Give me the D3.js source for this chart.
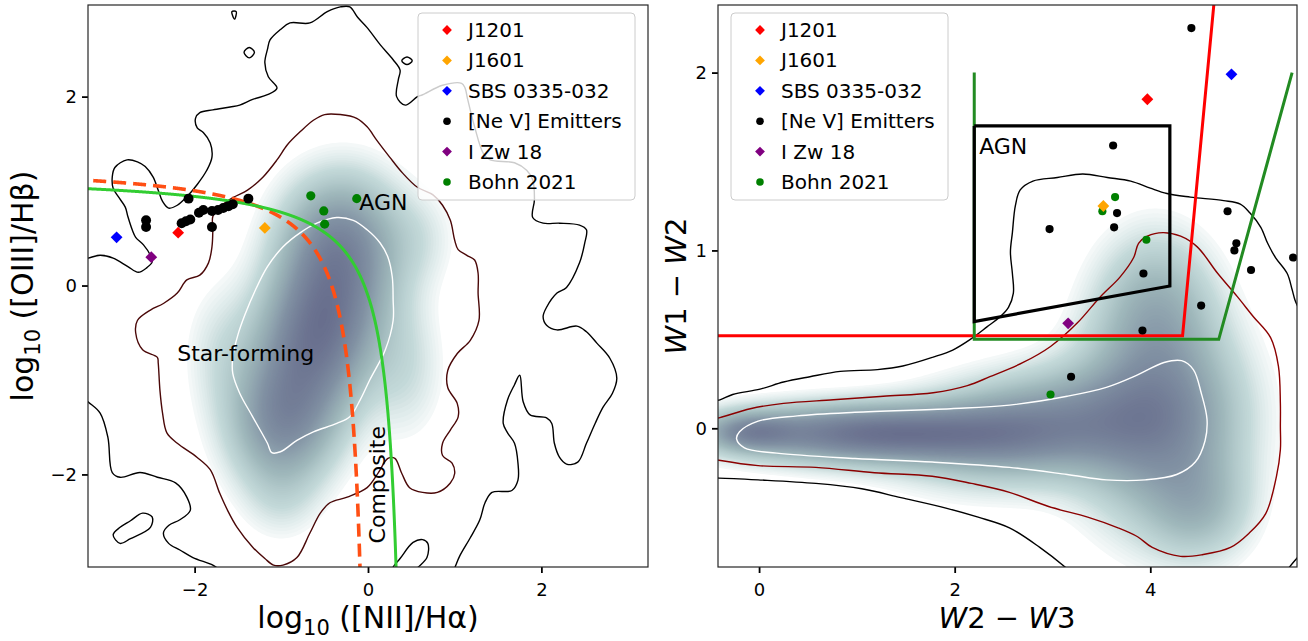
<!DOCTYPE html>
<html>
<head>
<meta charset="utf-8">
<script src="https://cdn.jsdelivr.net/npm/d3@7"></script>
<style>
  body { margin: 0; background: #fff; }
  text { font-family: "DejaVu Sans", sans-serif; fill: #000; }
</style>
</head>
<body>
<div id="wrapper"></div>
<script>
// ---------------- data ----------------
const seriesNames = ["J1201", "J1601", "SBS 0335-032", "[Ne V] Emitters", "I Zw 18", "Bohn 2021"]

// BPT panel: log10([NII]/Ha), log10([OIII]/Hb)
const bptJ1201 = [[-2.19, 0.56]]
const bptJ1601 = [[-1.19, 0.61]]
const bptSBS = [[-2.90, 0.51]]
const bptIZw18 = [[-2.50, 0.30]]
const bptNeV = [[-2.56, 0.69], [-2.56, 0.62], [-2.15, 0.66], [-2.10, 0.68], [-2.05, 0.70], [-1.95, 0.77],
  [-1.90, 0.80], [-2.07, 0.92], [-1.80, 0.79], [-1.80, 0.62], [-1.73, 0.80], [-1.67, 0.82],
  [-1.61, 0.84], [-1.56, 0.86], [-1.38, 0.92]]
const bptBohn = [[-0.66, 0.95], [-0.51, 0.79], [-0.50, 0.65], [-0.13, 0.92]]

// demarcations y = a/(x-b)+c
const kewley01 = [0.61, 0.47, 1.19]
const kauffmann03 = [0.61, 0.05, 1.3]

// WISE panel: W2-W3, W1-W2
const wiseJ1201 = [[3.97, 1.85]]
const wiseJ1601 = [[3.52, 1.25]]
const wiseSBS = [[4.83, 1.99]]
const wiseIZw18 = [[3.16, 0.59]]
const wiseNeV = [[4.42, 2.25], [3.62, 1.59], [3.66, 1.21], [3.63, 1.13], [2.97, 1.12], [4.79, 1.22],
  [4.88, 1.04], [4.86, 1.00], [5.03, 0.89], [5.46, 0.96], [3.93, 0.87], [4.52, 0.69],
  [3.92, 0.55], [3.19, 0.29]]
const wiseBohn = [[3.64, 1.30], [3.51, 1.22], [3.96, 1.06], [2.98, 0.19]]

const jarrettBox = [[2.2, 1.7], [4.2, 1.7], [4.2, 0.8], [2.2, 0.6], [2.2, 1.7]]
const satyapalLine = [[-0.6, 0.52], [4.33, 0.52], [4.67, 2.5]]
const blechaLine = [[2.2, 2.0], [2.2, 0.5], [4.7, 0.5], [5.45, 2.0]]

// density of the comparison samples, as gaussian blobs [mx, my, sx, sy, weight, rho]
const bptDensity = [[-0.55, -0.45, 0.5, 0.7, 1.0, 0.3], [-1.0, -1.5, 0.4, 0.45, 0.5, 0],
  [-0.35, 0.55, 0.45, 0.45, 0.45, 0], [0.45, -0.9, 0.3, 0.5, 0.15, 0],
  [-1.7, -0.7, 0.3, 0.5, 0.12, 0], [-1.0, -2.3, 0.3, 0.3, 0.09, 0], [0.6, 0.5, 0.3, 0.35, 0.1, 0]]
const wiseDensity = [[1.1, -0.03, 0.95, 0.11, 1.0, 0], [2.8, 0.0, 0.8, 0.2, 0.75, 0.2],
  [4.1, 0.05, 0.55, 0.38, 0.75, 0], [4.05, 0.7, 0.4, 0.28, 0.38, 0],
  [-0.1, -0.02, 0.3, 0.07, 0.5, 0], [4.5, -0.45, 0.35, 0.2, 0.3, 0]]

// contour lines of the comparison samples
const bptOuter = [[-3.30, 0.28], [-3.23, 0.29], [-3.09, 0.32], [-2.94, 0.29], [-2.77, 0.20], [-2.65, 0.14], [-2.55, 0.19],
  [-2.49, 0.25], [-2.51, 0.32], [-2.59, 0.43], [-2.68, 0.51], [-2.72, 0.59], [-2.77, 0.73], [-2.80, 0.83],
  [-2.88, 0.94], [-2.94, 1.03], [-2.95, 1.15], [-2.92, 1.25], [-2.78, 1.33], [-2.66, 1.31], [-2.57, 1.26],
  [-2.48, 1.15], [-2.42, 1.01], [-2.37, 0.89], [-2.30, 0.82], [-2.20, 0.85], [-2.09, 0.94], [-1.97, 1.07],
  [-1.86, 1.22], [-1.80, 1.36], [-1.82, 1.51], [-1.90, 1.62], [-1.97, 1.67], [-1.99, 1.77], [-1.94, 1.83],
  [-1.79, 1.86], [-1.59, 1.89], [-1.48, 1.91], [-1.33, 1.97], [-1.16, 2.02], [-1.05, 2.09], [-1.15, 2.21],
  [-1.19, 2.36], [-1.16, 2.50], [-1.13, 2.60], [-1.01, 2.71], [-0.90, 2.78], [-0.67, 2.78], [-0.47, 2.90],
  [-0.32, 2.95], [-0.21, 2.95], [-0.12, 2.84], [-0.01, 2.73], [0.14, 2.55], [0.29, 2.39], [0.37, 2.28],
  [0.35, 2.18], [0.33, 2.00], [0.43, 1.91], [0.57, 2.00], [0.63, 2.02], [0.86, 2.12], [1.08, 2.14],
  [1.12, 2.09], [1.15, 1.97], [1.23, 1.68], [1.33, 1.40], [1.41, 1.33], [1.69, 1.30], [1.83, 1.22],
  [1.90, 1.12], [1.92, 0.91], [1.90, 0.72], [2.02, 0.66], [2.21, 0.66], [2.44, 0.64], [2.52, 0.59],
  [2.50, 0.45], [2.44, 0.24], [2.29, -0.02], [2.18, -0.08], [2.06, -0.23], [2.02, -0.33], [2.06, -0.42],
  [2.18, -0.47], [2.41, -0.43], [2.52, -0.49], [2.64, -0.61], [2.79, -0.77], [2.87, -0.98], [2.82, -1.14],
  [2.71, -1.29], [2.62, -1.46], [2.52, -1.67], [2.42, -1.87], [2.29, -1.89], [2.21, -1.82], [2.15, -1.67],
  [2.12, -1.46], [2.06, -1.40], [1.87, -1.37], [1.79, -1.23], [1.75, -0.95], [1.69, -1.05], [1.61, -1.21],
  [1.56, -1.46], [1.61, -1.56], [1.69, -1.67], [1.73, -1.88], [1.73, -2.06], [1.66, -2.17], [1.43, -2.19],
  [1.35, -2.30], [1.29, -2.48], [1.18, -2.67], [1.06, -2.86], [1.00, -2.99], [0.94, -3.12]]
const bptOuterLow = [[-3.30, -1.17], [-3.23, -1.23], [-3.09, -1.35], [-3.00, -1.61], [-2.95, -1.98], [-2.86, -2.03],
  [-2.63, -1.98], [-2.43, -2.03], [-2.22, -2.09], [-2.09, -2.24], [-2.05, -2.38], [-2.17, -2.48],
  [-2.30, -2.54], [-2.36, -2.62], [-2.30, -2.73], [-2.17, -2.80], [-2.02, -2.88], [-1.79, -2.96],
  [-1.73, -3.00], [-1.65, -3.12]]
const bptIsland = [[-2.94, -2.64], [-2.86, -2.73], [-2.74, -2.68], [-2.51, -2.56], [-2.49, -2.45],
  [-2.60, -2.41], [-2.74, -2.49], [-2.86, -2.56]]
const bptLoop = [[0.26, -3.05], [0.29, -2.98], [0.37, -2.89], [0.52, -2.72], [0.63, -2.69], [0.69, -2.73],
  [0.68, -2.88], [0.56, -3.00], [0.51, -3.07]]
const bptSpecks = [
  [[-1.57, 2.90], [-1.52, 2.90], [-1.54, 2.82]],
  [[-1.43, 2.47], [-1.37, 2.52], [-1.31, 2.47], [-1.37, 2.41]],
  [[0.39, 2.38], [0.45, 2.42], [0.51, 2.38], [0.45, 2.34]]]
const bptMid = [[-2.09, 0.06], [-1.94, 0.11], [-1.84, 0.24], [-1.80, 0.41], [-1.79, 0.59], [-1.79, 0.73],
  [-1.71, 0.83], [-1.56, 0.93], [-1.39, 1.01], [-1.21, 1.15], [-1.05, 1.33], [-0.93, 1.49], [-0.78, 1.63],
  [-0.63, 1.75], [-0.50, 1.81], [-0.32, 1.81], [-0.13, 1.77], [-0.01, 1.68], [0.10, 1.54], [0.25, 1.36],
  [0.40, 1.19], [0.57, 1.04], [0.75, 0.96], [0.86, 0.85], [0.95, 0.69], [1.00, 0.48], [1.04, 0.38],
  [1.14, 0.32], [1.23, 0.27], [1.27, 0.13], [1.27, -0.08], [1.28, -0.37], [1.18, -0.58], [1.03, -0.72],
  [0.92, -0.90], [0.92, -1.08], [1.03, -1.25], [1.04, -1.39], [0.95, -1.53], [0.86, -1.67], [0.86, -1.80],
  [0.97, -1.88], [1.00, -1.99], [0.95, -2.09], [0.80, -2.19], [0.63, -2.19], [0.48, -2.14], [0.39, -1.99],
  [0.31, -1.83], [0.23, -1.83], [0.12, -1.98], [-0.01, -2.14], [-0.24, -2.24], [-0.44, -2.30],
  [-0.55, -2.41], [-0.67, -2.62], [-0.82, -2.88], [-0.98, -2.96], [-1.09, -2.96], [-1.19, -2.89],
  [-1.33, -2.77], [-1.51, -2.56], [-1.62, -2.38], [-1.71, -2.20], [-1.82, -1.95], [-1.97, -1.82],
  [-2.20, -1.67], [-2.32, -1.56], [-2.37, -1.35], [-2.40, -1.11], [-2.42, -0.82], [-2.43, -0.76],
  [-2.60, -0.68], [-2.68, -0.50], [-2.66, -0.37], [-2.51, -0.26], [-2.36, -0.19], [-2.20, -0.08]]
const bptInner = [[-1.16, 0.20], [-1.30, -0.05], [-1.42, -0.31], [-1.50, -0.52], [-1.56, -0.76], [-1.56, -0.93],
  [-1.48, -1.14], [-1.33, -1.39], [-1.16, -1.67], [-1.11, -1.77], [-1.01, -1.76], [-0.82, -1.64],
  [-0.63, -1.55], [-0.36, -1.46], [-0.21, -1.39], [-0.09, -1.21], [0.02, -1.00], [0.20, -0.68],
  [0.29, -0.37], [0.29, -0.15], [0.28, 0.09], [0.23, 0.30], [0.14, 0.45], [-0.01, 0.59], [-0.17, 0.69],
  [-0.36, 0.72], [-0.59, 0.66], [-0.78, 0.56], [-0.98, 0.41]]

const wiseOuterUp = [[-0.50, 0.15], [-0.40, 0.16], [-0.27, 0.19], [0.01, 0.22], [0.25, 0.26], [0.52, 0.29],
  [0.83, 0.32], [1.21, 0.33], [1.47, 0.35], [1.78, 0.40], [1.98, 0.44], [2.16, 0.50], [2.33, 0.57],
  [2.47, 0.63], [2.55, 0.68], [2.60, 0.76], [2.59, 0.87], [2.57, 0.99], [2.59, 1.10], [2.62, 1.25],
  [2.67, 1.34], [2.80, 1.39], [3.05, 1.41], [3.31, 1.43], [3.56, 1.41], [3.80, 1.39], [4.00, 1.35],
  [4.17, 1.32], [4.41, 1.30], [4.75, 1.28], [4.92, 1.26], [5.02, 1.21], [5.13, 1.13], [5.20, 1.04],
  [5.28, 0.96], [5.40, 0.87], [5.45, 0.78], [5.48, 0.72], [5.53, 0.66]]
const wiseOuterLow = [[-0.50, -0.28], [-0.41, -0.28], [-0.01, -0.29], [0.58, -0.31], [1.05, -0.34], [1.45, -0.39],
  [1.92, -0.45], [2.24, -0.50], [2.56, -0.56], [2.87, -0.67], [3.15, -0.79], [3.23, -0.83]]
const wiseOuterCorner = [[5.38, -0.82], [5.41, -0.79], [5.50, -0.73], [5.55, -0.70]]
const wiseMid = [[-0.50, 0.05], [-0.40, 0.06], [-0.09, 0.11], [0.25, 0.14], [0.76, 0.16], [1.27, 0.18], [1.78, 0.20],
  [2.13, 0.24], [2.36, 0.29], [2.70, 0.37], [2.98, 0.46], [3.25, 0.59], [3.49, 0.74], [3.69, 0.85],
  [3.83, 0.96], [3.88, 1.04], [3.97, 1.08], [4.13, 1.10], [4.31, 1.08], [4.48, 1.02], [4.69, 0.87],
  [4.89, 0.74], [5.05, 0.63], [5.23, 0.51], [5.31, 0.35], [5.33, 0.14], [5.33, 0.01], [5.33, -0.12],
  [5.29, -0.27], [5.18, -0.48], [5.01, -0.59], [4.82, -0.67], [4.54, -0.71], [4.31, -0.72], [4.02, -0.67],
  [3.87, -0.61], [3.67, -0.56], [3.36, -0.50], [2.96, -0.44], [2.56, -0.36], [2.17, -0.31], [1.77, -0.27],
  [1.18, -0.25], [0.58, -0.22], [-0.01, -0.21], [-0.41, -0.18], [-0.50, -0.17]]
const wiseInner = [[-0.20, -0.02], [-0.23, -0.06], [-0.15, -0.11], [0.18, -0.14], [0.98, -0.17], [1.77, -0.19],
  [2.56, -0.22], [3.15, -0.26], [3.55, -0.29], [3.95, -0.29], [4.27, -0.26], [4.46, -0.19], [4.56, -0.07],
  [4.58, 0.05], [4.52, 0.20], [4.44, 0.33], [4.32, 0.38], [4.14, 0.37], [3.87, 0.30], [3.55, 0.23],
  [3.15, 0.18], [2.56, 0.13], [1.96, 0.11], [0.98, 0.09], [0.39, 0.07], [-0.01, 0.04]]

// ---------------- styles ----------------
const seriesStyle = {
  "J1201": { color: "#ff0000", shape: "D" },
  "J1601": { color: "#ffa500", shape: "D" },
  "SBS 0335-032": { color: "#0000ff", shape: "D" },
  "[Ne V] Emitters": { color: "#000000", shape: "o" },
  "I Zw 18": { color: "#800080", shape: "D" },
  "Bohn 2021": { color: "#008000", shape: "o" },
}
const densityColor = d3.scaleLinear()
  .domain([0, 0.06, 0.18, 0.38, 0.65, 1])
  .range(["#ffffff", "#f4f8f8", "#c3d9d9", "#9fb8bb", "#8191a3", "#686e8d"])

const svg = d3.select("#wrapper").append("svg")
  .attr("width", 1308).attr("height", 641)
const defs = svg.append("defs")

const xBpt = d3.scaleLinear().domain([-3.23, 3.23]).range([88, 648])
const yBpt = d3.scaleLinear().domain([-2.98, 2.97]).range([567, 5])
const xWise = d3.scaleLinear().domain([-0.42, 5.5]).range([718, 1297])
const yWise = d3.scaleLinear().domain([-0.78, 2.38]).range([567, 5])

function clipFor(id, x, y) {
  defs.append("clipPath").attr("id", id).append("rect")
    .attr("x", x.range()[0]).attr("y", y.range()[1])
    .attr("width", x.range()[1] - x.range()[0]).attr("height", y.range()[0] - y.range()[1])
  return svg.append("g").attr("clip-path", `url(#${id})`)
}

function drawDensity(g, comps, x, y, t0) {
  const [x0, x1] = x.domain(), [y0, y1] = y.domain()
  const nx = 280, ny = 280
  const values = new Float64Array(nx * ny)
  for (let j = 0; j < ny; j++) {
    for (let i = 0; i < nx; i++) {
      const px = x0 + (i + 0.5) / nx * (x1 - x0)
      const py = y1 - (j + 0.5) / ny * (y1 - y0)
      let v = 0
      comps.forEach(([mx, my, sx, sy, w, r]) => {
        const dx = (px - mx) / sx, dy = (py - my) / sy
        v += w * Math.exp(-(dx * dx - 2 * r * dx * dy + dy * dy) / (2 * (1 - r * r)))
      })
      values[j * nx + i] = v
    }
  }
  const vmax = d3.max(values)
  for (let k = 0; k < values.length; k++) values[k] /= vmax
  const bands = d3.contours().size([nx, ny]).thresholds(d3.range(t0, 1, 0.012))(values)
  const proj = d3.geoTransform({
    point: function (gx, gy) {
      this.stream.point(x(x0 + gx / nx * (x1 - x0)), y(y1 - gy / ny * (y1 - y0)))
    }
  })
  g.selectAll("path.band").data(bands).join("path")
    .attr("class", "band")
    .attr("d", d3.geoPath(proj))
    .attr("fill", d => densityColor(d.value))
}

function drawContour(g, pts, x, y, color, closed) {
  const line = d3.line().x(d => x(d[0])).y(d => y(d[1]))
    .curve(closed ? d3.curveCatmullRomClosed : d3.curveCatmullRom)
  g.append("path").attr("d", line(pts))
    .attr("fill", "none").attr("stroke", color).attr("stroke-width", 1.4)
}

function demarcation([a, b, c], xmin, ymin) {
  const xEnd = b + a / (ymin - c)
  return d3.range(xmin, xEnd, 0.002).concat([xEnd]).map(v => [v, a / (v - b) + c])
}

function drawPoints(g, pts, name, x, y, size) {
  const st = seriesStyle[name]
  if (st.shape === "D") {
    g.selectAll(null).data(pts).join("path")
      .attr("d", d3.symbol(d3.symbolSquare, size))
      .attr("transform", d => `translate(${x(d[0])},${y(d[1])}) rotate(45)`)
      .attr("fill", st.color)
  } else {
    g.selectAll(null).data(pts).join("circle")
      .attr("cx", d => x(d[0])).attr("cy", d => y(d[1]))
      .attr("r", Math.sqrt(size / Math.PI)).attr("fill", st.color)
  }
}

function drawAxes(x, y, xTicks, yTicks) {
  const xa = svg.append("g").attr("transform", `translate(0,${y.range()[0]})`)
    .call(d3.axisBottom(x).tickValues(xTicks).tickFormat(d3.format("d")).tickSize(6).tickPadding(10))
  const ya = svg.append("g").attr("transform", `translate(${x.range()[0]},0)`)
    .call(d3.axisLeft(y).tickValues(yTicks).tickFormat(d3.format("d")).tickSize(6).tickPadding(5))
  ;[xa, ya].forEach(a => {
    a.select(".domain").remove()
    a.selectAll(".tick line").attr("stroke", "#000").attr("stroke-width", 1.8)
    a.selectAll(".tick text").attr("font-size", 18).attr("font-family", "DejaVu Sans")
  })
  svg.append("rect")
    .attr("x", x.range()[0]).attr("y", y.range()[1])
    .attr("width", x.range()[1] - x.range()[0]).attr("height", y.range()[0] - y.range()[1])
    .attr("fill", "none").attr("stroke", "#262626").attr("stroke-width", 1.2)
}

function drawLegend(left, top) {
  const g = svg.append("g").attr("transform", `translate(${left},${top})`)
  g.append("rect").attr("width", 217).attr("height", 187).attr("rx", 4)
    .attr("fill", "#fff").attr("fill-opacity", 0.8).attr("stroke", "#cccccc")
  seriesNames.forEach((name, i) => {
    const cy = 17 + i * 30.4
    const st = seriesStyle[name]
    if (st.shape === "D") {
      g.append("path").attr("d", d3.symbol(d3.symbolSquare, 48))
        .attr("transform", `translate(29,${cy}) rotate(45)`).attr("fill", st.color)
    } else {
      g.append("circle").attr("cx", 29).attr("cy", cy).attr("r", 3.8).attr("fill", st.color)
    }
    g.append("text").attr("x", 50).attr("y", cy + 7).attr("font-size", 20).text(name)
  })
}

// ---------------- BPT panel ----------------
const gB = clipFor("clipBpt", xBpt, yBpt)
drawDensity(gB, bptDensity, xBpt, yBpt, 0.06)
drawContour(gB, bptOuter, xBpt, yBpt, "#000", false)
drawContour(gB, bptOuterLow, xBpt, yBpt, "#000", false)
drawContour(gB, bptLoop, xBpt, yBpt, "#000", false)
drawContour(gB, bptIsland, xBpt, yBpt, "#000", true)
bptSpecks.forEach(s => drawContour(gB, s, xBpt, yBpt, "#000", true))
drawContour(gB, bptMid, xBpt, yBpt, "#4a0808", true)
drawContour(gB, bptInner, xBpt, yBpt, "#ffffff", true)

const curve = d3.line().x(d => xBpt(d[0])).y(d => yBpt(d[1]))
gB.append("path").attr("d", curve(demarcation(kauffmann03, -3.4, -3.1)))
  .attr("fill", "none").attr("stroke", "#ff4f14").attr("stroke-width", 3.6)
  .attr("stroke-dasharray", "13,7")
gB.append("path").attr("d", curve(demarcation(kewley01, -3.4, -3.1)))
  .attr("fill", "none").attr("stroke", "#32cd32").attr("stroke-width", 3)

drawPoints(gB, bptBohn, "Bohn 2021", xBpt, yBpt, 66)
drawPoints(gB, bptNeV, "[Ne V] Emitters", xBpt, yBpt, 78)
drawPoints(gB, bptJ1201, "J1201", xBpt, yBpt, 70)
drawPoints(gB, bptJ1601, "J1601", xBpt, yBpt, 70)
drawPoints(gB, bptSBS, "SBS 0335-032", xBpt, yBpt, 70)
drawPoints(gB, bptIZw18, "I Zw 18", xBpt, yBpt, 70)

gB.append("text").attr("x", xBpt(-0.10)).attr("y", yBpt(0.80)).attr("font-size", 22).text("AGN")
gB.append("text").attr("x", xBpt(-2.20)).attr("y", yBpt(-0.80)).attr("font-size", 22).text("Star-forming")
gB.append("text").attr("font-size", 22)
  .attr("transform", `translate(${xBpt(0.20)},${yBpt(-2.73)}) rotate(-90)`).text("Composite")

drawAxes(xBpt, yBpt, [-2, 0, 2], [-2, 0, 2])
drawLegend(418, 13)

const xlabB = svg.append("text").attr("x", 368).attr("y", 628).attr("text-anchor", "middle").attr("font-size", 30)
xlabB.append("tspan").text("log")
xlabB.append("tspan").attr("font-size", 21).attr("dy", 7).text("10")
xlabB.append("tspan").attr("dy", -7).text(" ([NII]/H\u03b1)")
const ylabB = svg.append("text").attr("text-anchor", "middle").attr("font-size", 30)
  .attr("transform", "translate(33,286) rotate(-90)")
ylabB.append("tspan").text("log")
ylabB.append("tspan").attr("font-size", 21).attr("dy", 7).text("10")
ylabB.append("tspan").attr("dy", -7).text(" ([OIII]/H\u03b2)")

// ---------------- WISE panel ----------------
const gW = clipFor("clipWise", xWise, yWise)
drawDensity(gW, wiseDensity, xWise, yWise, 0.06)
drawContour(gW, wiseOuterUp, xWise, yWise, "#000", false)
drawContour(gW, wiseOuterLow, xWise, yWise, "#000", false)
drawContour(gW, wiseOuterCorner, xWise, yWise, "#000", false)
drawContour(gW, wiseMid, xWise, yWise, "#8b0000", false)
drawContour(gW, wiseInner, xWise, yWise, "#ffffff", true)

const wl = d3.line().x(d => xWise(d[0])).y(d => yWise(d[1]))
gW.append("path").attr("d", wl(satyapalLine)).attr("fill", "none").attr("stroke", "#ff0000").attr("stroke-width", 3)
gW.append("path").attr("d", wl(blechaLine)).attr("fill", "none").attr("stroke", "#228b22").attr("stroke-width", 3)
gW.append("path").attr("d", wl(jarrettBox)).attr("fill", "none").attr("stroke", "#000").attr("stroke-width", 3.2)
  .attr("stroke-linejoin", "miter")

drawPoints(gW, wiseBohn, "Bohn 2021", xWise, yWise, 52)
drawPoints(gW, wiseNeV, "[Ne V] Emitters", xWise, yWise, 52)
drawPoints(gW, wiseJ1201, "J1201", xWise, yWise, 70)
drawPoints(gW, wiseJ1601, "J1601", xWise, yWise, 70)
drawPoints(gW, wiseSBS, "SBS 0335-032", xWise, yWise, 70)
drawPoints(gW, wiseIZw18, "I Zw 18", xWise, yWise, 70)

gW.append("text").attr("x", xWise(2.25)).attr("y", yWise(1.54)).attr("font-size", 22).text("AGN")

drawAxes(xWise, yWise, [0, 2, 4], [0, 1, 2])
drawLegend(731, 13)

const xlabW = svg.append("text").attr("x", 1007).attr("y", 628).attr("text-anchor", "middle").attr("font-size", 29)
xlabW.append("tspan").attr("font-style", "italic").text("W")
xlabW.append("tspan").text("2 \u2212 ")
xlabW.append("tspan").attr("font-style", "italic").text("W")
xlabW.append("tspan").text("3")
const ylabW = svg.append("text").attr("text-anchor", "middle").attr("font-size", 29)
  .attr("transform", "translate(686,286) rotate(-90)")
ylabW.append("tspan").attr("font-style", "italic").text("W")
ylabW.append("tspan").text("1 \u2212 ")
ylabW.append("tspan").attr("font-style", "italic").text("W")
ylabW.append("tspan").text("2")
</script>
</body>
</html>
